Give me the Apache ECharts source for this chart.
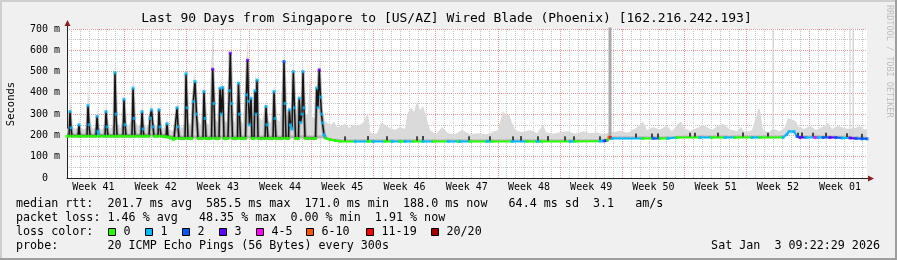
<!DOCTYPE html>
<html><head><meta charset="utf-8">
<script src="https://cdn.jsdelivr.net/npm/echarts@6.0.0/dist/echarts.min.js"></script>
<style>html,body{margin:0;padding:0;background:#f0f0f0}#c{width:897px;height:260px}</style>
</head><body><div id="c"></div>
<script>
// ---------- text ----------
const titleText = 'Last 90 Days from Singapore to [US/AZ] Wired Blade (Phoenix) [162.216.242.193]';
const statsRtt = 'median rtt:  201.7 ms avg  585.5 ms max  171.0 ms min  188.0 ms now   64.4 ms sd  3.1   am/s';
const statsLoss = 'packet loss: 1.46 % avg   48.35 % max  0.00 % min  1.91 % now';
const lossTitle = 'loss color:';
const probeText = 'probe:       20 ICMP Echo Pings (56 Bytes) every 300s';
const stampText = 'Sat Jan  3 09:22:29 2026';
const yName = 'Seconds';
const watermark = 'RRDTOOL / TOBI OETIKER';

// ---------- axes ----------
const weekLabels = ['Week 41','Week 42','Week 43','Week 44','Week 45','Week 46','Week 47','Week 48','Week 49','Week 50','Week 51','Week 52','Week 01'];
const firstWeekBoundary = 6.47;   // day (from left edge) of the first Monday boundary
const spanDays = 90;
const yMaxMs = 700;
const lossNames = ['0','1','2','3','4-5','6-10','11-19','20/20'];
const lossColors = ['#26ff00','#00b8ff','#0059ff','#5e00ff','#ff00ff','#ff5500','#ff0000','#a10000'];

// ---------- median rtt (day, ms, loss class) ----------
const medDay = [
 0,0.23,0.34,0.45,0.56,
 1.24,1.35,1.46,
 2.25,2.36,2.48,2.59,
 3.26,3.38,3.49,3.6,
 4.28,4.39,4.5,4.61,
 5.29,5.4,5.51,5.63,
 6.3,6.41,6.53,6.64,
 7.31,7.43,7.54,7.65,
 8.33,8.44,8.55,8.66,
 9.23,9.34,9.51,9.68,9.79,
 10.24,10.35,10.46,10.58,
 11.14,11.25,11.36,
 11.81,11.93,12.04,
 12.26,12.38,12.49,12.6,
 13.28,13.39,13.5,13.61,
 14.06,14.21,14.4,14.57,14.74,
 15.3,15.41,15.53,15.64,
 16.26,16.39,16.54,16.65,
 17.1,17.21,17.36,17.52,17.66,
 18.11,18.26,18.37,18.51,18.62,
 19.18,19.29,19.41,19.52,
 20.08,20.19,20.31,20.42,20.53,20.7,20.81,
 21.04,21.15,21.26,21.38,21.49,
 22.28,22.39,22.5,22.61,
 23.18,23.29,23.4,23.51,
 24.3,24.41,24.53,24.64,
 24.92,25.01,25.14,25.31,25.46,25.59,25.71,
 26.04,26.13,26.27,26.44,26.55,26.66,26.78,
 27.96,28.09,28.24,28.38,28.52,28.63,28.74,28.91,29.14,
 29.59,30.15,30.71,
 32.4,33.86,34.43,35.78,36.56,37.46,38.03,38.93,40.05,41.18,42.86,43.99,44.21,45.34,47.25,47.81,50.06,51.75,52.88,53.33,56.59,57.15,
 59.96,60.41,60.64,60.81,60.98,61.14,61.31,
 64.8,65.93,66.71,67.61,
 68.63,71.21,72.56,74.03,75.15,77.06,77.96,80.55,
 81.0,81.23,81.79,82.13,82.46,83.14,84.15,84.49,85.05,85.84,86.51,87.19,88.09,88.76,89.44,90
];
const medMs = [
 196,196,312,236,196,
 196,250,196,
 196,340,250,196,
 196,290,220,196,
 196,312,240,196,
 196,495,300,196,
 196,370,250,196,
 196,422,280,196,
 196,312,230,196,
 196,281,320,240,196,
 196,320,240,196,
 194,255,192,
 188,180,186,
 186,330,240,186,
 186,490,330,186,
 186,359,453,300,186,
 186,406,280,186,
 186,511,350,186,
 186,422,300,425,186,
 186,410,586,350,186,
 186,445,300,186,
 186,390,553,360,250,375,186,
 186,410,300,460,186,
 186,336,250,186,
 186,406,280,186,
 186,547,350,186,
 186,320,250,230,500,330,186,
 186,375,260,300,500,330,186,
 186,423,330,508,380,300,259,205,186,
 180,176,172,
 172,172,172,172,172,172,172,172,172,172,172,172,172,172,172,172,172,172,172,172,172,172,
 173,174,176,178,192,190,186,
 186,186,186,186,
 190,190,190,190,190,190,190,190,
 205,218,218,195,190,190,190,190,190,190,190,188,188,186,184,184
];
const medLoss = [
 0,0,1,1,0,
 0,1,0,
 0,1,1,0,
 0,1,1,0,
 0,1,1,0,
 0,1,1,0,
 0,1,1,0,
 0,1,1,0,
 0,1,1,0,
 0,1,1,1,0,
 0,1,1,0,
 0,1,0,
 0,0,0,
 0,1,1,0,
 0,1,1,0,
 0,1,1,1,0,
 0,1,1,0,
 0,3,1,0,
 0,1,1,1,0,
 0,1,3,1,0,
 0,1,1,0,
 0,1,3,1,1,1,0,
 0,1,1,1,0,
 0,1,1,0,
 0,1,1,0,
 0,2,1,0,
 0,1,1,1,1,1,0,
 0,1,1,1,1,1,0,
 0,1,1,3,1,1,1,1,0,
 0,0,0,
 1,0,1,0,1,0,1,0,1,0,1,0,1,0,1,0,1,0,1,0,1,0,
 1,2,3,0,5,6,1,
 0,2,0,1,
 0,1,0,1,0,1,0,1,
 1,1,1,2,3,1,4,1,2,3,2,1,3,2,2,2
];
const spikyUntilDay = 29.2;

// ---------- smoke (day, lowest ping, dense-core top, highest ping) ----------
const smokeDay = [
 0,0.23,0.34,0.56,0.9,1.24,1.35,1.46,1.91,2.25,
 2.36,2.59,2.93,3.26,3.38,3.6,3.94,4.28,4.39,4.61,
 4.95,5.29,5.4,5.63,5.96,6.3,6.41,6.64,6.98,7.31,
 7.43,7.65,7.99,8.33,8.44,8.66,9.0,9.23,9.39,9.68,
 10.01,10.24,10.35,10.58,
 10.91,11.25,11.48,11.81,12.04,
 12.26,12.38,12.6,12.94,13.28,13.39,13.61,13.95,14.29,14.74,
 15.08,15.41,15.64,15.98,16.39,16.65,16.99,17.33,17.66,18.0,
 18.37,18.62,18.9,19.29,19.52,19.8,20.31,20.59,20.7,20.93,
 21.26,21.49,21.94,22.39,22.61,22.95,23.29,23.51,23.96,24.41,
 24.64,24.98,25.2,25.46,25.71,26.1,26.33,26.55,26.78,27.11,
 27.34,27.56,27.9,28.09,28.38,28.63,28.8,
 29.03,29.36,29.7,30.04,30.38,
 30.71,31.28,31.73,32.18,32.74,33.3,33.86,34.09,34.43,34.88,
 35.33,35.78,36.34,36.9,37.46,38.03,38.25,38.7,39.04,39.38,
 39.71,40.05,40.39,40.84,41.51,42.19,42.86,43.65,44.44,45.34,
 46.24,47.14,47.81,48.49,48.83,49.05,49.39,49.73,50.06,50.4,
 51.19,52.09,52.88,53.55,53.89,54.68,55.46,56.25,57.15,58.05,
 58.84,59.63,60.3,
 60.75,60.98,
 61.43,62.21,63.11,64.01,64.46,64.8,65.25,65.93,66.71,67.5,68.06,
 68.74,69.08,69.41,
 70.09,70.88,71.55,72.0,72.56,73.24,73.8,74.59,75.38,75.83,
 76.28,77.06,77.63,77.74,77.96,78.3,78.86,79.54,80.21,
 80.78,81.11,81.56,82.01,
 82.35,82.91,83.59,84.26,84.94,85.61,86.06,
 86.74,87.41,87.98,88.65,89.21,89.66,90
];
const smokeLo = [
 196,196,196,196,196,196,196,196,196,196,
 196,196,196,196,196,196,196,196,196,196,
 196,196,196,196,196,196,196,196,196,196,
 196,196,196,196,196,196,196,196,196,196,
 196,196,196,196,
 194,192,190,186,184,
 186,186,186,186,186,186,186,186,186,186,
 186,186,186,186,186,186,186,186,186,186,
 186,186,186,186,186,186,186,186,186,186,
 186,186,186,186,186,186,186,186,186,186,
 186,186,186,186,186,186,186,186,186,186,
 186,186,186,186,186,186,186,
 184,180,178,176,175,
 172,172,172,172,172,172,172,172,172,172,
 172,172,172,172,172,172,172,172,172,172,
 172,172,172,172,172,172,172,172,172,172,
 172,172,172,172,172,172,172,172,172,172,
 172,172,172,172,172,172,172,172,172,172,
 172,172,172,
 174,176,
 186,186,186,186,186,186,186,186,186,186,186,
 188,188,188,
 190,190,190,190,190,190,190,190,190,190,
 190,190,190,190,190,190,190,190,190,
 195,212,215,200,
 190,190,190,190,190,190,190,
 188,188,188,186,186,186,184
];
const smokeMid = [
 210,210,210,210,210,210,210,210,210,210,
 210,210,210,210,210,210,210,210,210,210,
 210,210,210,210,210,210,210,210,210,210,
 210,210,210,210,210,210,210,210,210,210,
 210,210,210,210,
 208,206,204,200,198,
 200,200,200,200,200,200,200,200,200,200,
 200,200,200,200,200,200,200,200,200,200,
 200,200,200,200,200,200,200,200,200,200,
 200,200,200,200,200,200,200,200,200,200,
 200,200,200,200,200,200,200,200,200,200,
 200,200,200,200,200,200,200,
 196,192,188,186,185,
 182,182,182,182,182,182,182,182,182,182,
 182,182,182,182,182,182,182,182,182,182,
 182,182,182,182,182,182,182,182,182,182,
 182,182,182,182,182,182,182,182,182,182,
 182,182,182,182,182,182,182,182,182,182,
 182,182,182,
 184,186,
 196,196,196,196,196,196,196,196,196,196,196,
 198,198,198,
 200,200,200,200,200,200,200,200,200,200,
 200,200,200,200,200,200,200,200,200,
 205,222,225,210,
 200,200,200,200,200,200,200,
 198,198,198,196,196,196,194
];
const smokeHi = [
 230,240,410,240,232,235,290,240,228,240,
 445,250,230,240,330,235,228,245,360,240,
 232,250,550,260,235,250,400,245,250,270,
 515,270,245,250,345,245,240,255,350,260,
 240,250,345,240,
 235,280,230,222,225,
 240,380,245,235,255,530,260,250,505,270,
 250,450,260,250,687,280,260,480,270,260,
 618,280,260,470,270,255,652,300,400,280,
 500,290,270,360,270,260,440,280,265,600,
 290,340,300,530,290,400,300,540,300,300,
 510,290,280,450,540,330,312,
 270,255,250,265,240,
 242,255,235,250,245,260,306,220,205,210,
 259,250,235,225,240,230,300,330,310,359,
 320,340,290,225,205,240,210,205,225,205,
 210,205,215,225,280,317,290,300,260,225,
 215,225,210,250,215,208,215,220,208,220,
 210,215,205,
 210,215,
 215,222,212,235,250,265,225,240,228,245,220,
 255,265,235,
 222,235,250,240,225,245,255,228,220,240,
 215,225,300,328,320,225,215,230,220,
 240,282,275,265,
 240,230,245,225,240,258,230,
 245,235,230,235,245,228,230
];
// single samples whose highest ping went off the top of the scale
const tallDay = [61.09, 79.43, 88.09, 88.43];
const tallLo = [178, 190, 188, 188];
const tallHi = [800, 800, 800, 800];
// short dense-smoke marks along the flat period
const blipDay = [31.28,33.86,36.0,39.38,40.05,45.23,47.59,50.18,51.08,52.99,54.11,56.03,57.04,59.96,64.01,65.81,66.49,70.09,70.65,73.24,76.05,78.86,82.24,82.69,83.93,85.39,87.75,89.44];
const blipMs = [184,185,184,184,186,184,184,184,185,184,185,184,184,184,197,197,197,201,201,201,202,201,201,202,201,201,199,196];

// ---------- checks ----------
if (medDay.length !== medMs.length || medDay.length !== medLoss.length) throw new Error('median arrays: ' + medDay.length + ' ' + medMs.length + ' ' + medLoss.length);
if ([smokeLo, smokeMid, smokeHi].some(a => a.length !== smokeDay.length)) throw new Error('smoke arrays: ' + smokeDay.length + ' ' + smokeLo.length + ' ' + smokeMid.length + ' ' + smokeHi.length);

// ---------- derived ----------
const weekLines = [];
for (let d = firstWeekBoundary; d < spanDays; d += 7) weekLines.push(+d.toFixed(4));
const weekCenters = weekLabels.map((_, i) => +(firstWeekBoundary - 3.5 + 7 * i).toFixed(4));
const dayLines = [];
for (let k = -6; firstWeekBoundary + k < spanDays; k++) {
  const d = firstWeekBoundary + k;
  if (d > 0 && ((k % 7) + 7) % 7 !== 0) dayLines.push(+d.toFixed(4));
}

const mono = "'DejaVu Sans Mono', monospace";
const darkPath = medDay.map((d, i) => [d, medMs[i]]).filter(p => p[0] <= spikyUntilDay);
const tallThick = [[tallDay[0], tallLo[0]], [tallDay[0], tallHi[0]]];
const tallThin = [];
for (let i = 1; i < tallDay.length; i++) { tallThin.push([tallDay[i], tallLo[i]], [tallDay[i], tallHi[i]], [tallDay[i], null]); }

// smoke band between two ping levels, drawn as one polygon through the axis scales
function bandSeries(lo, hi, color, z) {
  return {
    type: 'custom', coordinateSystem: 'cartesian2d', data: [[0, 0]], silent: true, z,
    renderItem(params, api) {
      const top = smokeDay.map((d, i) => api.coord([d, hi[i]]));
      const bot = smokeDay.map((d, i) => api.coord([d, lo[i]])).reverse();
      return { type: 'polygon', shape: { points: top.concat(bot) }, style: { fill: color } };
    }
  };
}

const segSeries = lossColors.map((color, cat) => {
  const data = [];
  for (let i = 0; i < medDay.length - 1; i++) {
    if (medLoss[i] === cat && Math.abs(medMs[i + 1] - medMs[i]) <= 25) {
      const last = data[data.length - 1];
      if (!last || last[0] !== medDay[i] || last[1] === null) {
        if (data.length) data.push([medDay[i], null]);
        data.push([medDay[i], medMs[i]]);
      }
      data.push([medDay[i + 1], medMs[i + 1]]);
    }
  }
  return { type: 'line', data, symbol: 'none', connectNulls: false, lineStyle: { color, width: 2 }, z: 6, silent: true };
});

const graphic = [];
// frame
graphic.push({ type: 'rect', shape: { x: 0, y: 0, width: 897, height: 2 }, style: { fill: '#cfcfcf' }, z: 100 });
graphic.push({ type: 'rect', shape: { x: 0, y: 0, width: 2, height: 260 }, style: { fill: '#cfcfcf' }, z: 100 });
graphic.push({ type: 'rect', shape: { x: 0, y: 258, width: 897, height: 2 }, style: { fill: '#9e9e9e' }, z: 100 });
graphic.push({ type: 'rect', shape: { x: 895, y: 0, width: 2, height: 260 }, style: { fill: '#9e9e9e' }, z: 100 });
// title & texts
graphic.push({ type: 'text', x: 446.5, y: 19, style: { text: titleText, font: '13px ' + mono, fill: '#000', align: 'center', verticalAlign: 'middle' } });
graphic.push({ type: 'text', x: 11, y: 104, rotation: Math.PI / 2, style: { text: yName, font: '10.5px ' + mono, fill: '#000', align: 'center', verticalAlign: 'middle' } });
graphic.push({ type: 'text', x: 889, y: 5, rotation: -Math.PI / 2, style: { text: watermark, font: '8.5px ' + mono, fill: '#bdbdbd', align: 'left', verticalAlign: 'middle' } });
const legFont = '11.7px ' + mono;
graphic.push({ type: 'text', x: 16, y: 204, style: { text: statsRtt, font: legFont, fill: '#000', align: 'left', verticalAlign: 'middle' } });
graphic.push({ type: 'text', x: 16, y: 218, style: { text: statsLoss, font: legFont, fill: '#000', align: 'left', verticalAlign: 'middle' } });
graphic.push({ type: 'text', x: 16, y: 232, style: { text: lossTitle, font: legFont, fill: '#000', align: 'left', verticalAlign: 'middle' } });
graphic.push({ type: 'text', x: 16, y: 246, style: { text: probeText, font: legFont, fill: '#000', align: 'left', verticalAlign: 'middle' } });
graphic.push({ type: 'text', x: 880, y: 246, style: { text: stampText, font: legFont, fill: '#000', align: 'right', verticalAlign: 'middle' } });
const boxX = [108.5, 145.5, 182.5, 219.5, 256.5, 306.5, 366.5, 431.5];
lossNames.forEach((name, i) => {
  graphic.push({ type: 'rect', shape: { x: boxX[i], y: 228.5, width: 7, height: 7 }, style: { fill: lossColors[i], stroke: '#000', lineWidth: 1 } });
  graphic.push({ type: 'text', x: boxX[i] + 15, y: 232, style: { text: name, font: legFont, fill: '#000', align: 'left', verticalAlign: 'middle' } });
});
// axis arrows
graphic.push({ type: 'line', shape: { x1: 67.5, y1: 29, x2: 67.5, y2: 23 }, style: { stroke: '#222', lineWidth: 1 } });
graphic.push({ type: 'polygon', shape: { points: [[67.5, 20], [64.5, 26], [70.5, 26]] }, style: { fill: '#8b2020' } });
graphic.push({ type: 'line', shape: { x1: 867, y1: 178.5, x2: 870, y2: 178.5 }, style: { stroke: '#222', lineWidth: 1 } });
graphic.push({ type: 'polygon', shape: { points: [[874, 178.5], [868, 175.5], [868, 181.5]] }, style: { fill: '#8b2020' } });

const chart = echarts.init(document.getElementById('c'), null, { renderer: 'canvas', width: 897, height: 260 });
chart.setOption({
  animation: false,
  backgroundColor: '#f0f0f0',
  grid: { left: 67, top: 29, width: 800, height: 149, show: true, backgroundColor: '#ffffff', borderWidth: 0 },
  xAxis: [{
    type: 'value', min: 0, max: spanDays,
    axisLine: { show: true, lineStyle: { color: '#222', width: 1 } },
    axisTick: { show: false, customValues: weekLines },
    axisLabel: { customValues: weekCenters, formatter: v => weekLabels[Math.round((v - weekCenters[0]) / 7)] || '', fontFamily: mono, fontSize: 10, color: '#000', margin: 4 },
    splitLine: { show: true, lineStyle: { color: '#eb9a9a', type: [1, 1], width: 1 } }
  }, {
    type: 'value', min: 0, max: spanDays, position: 'top',
    axisLine: { show: false }, axisLabel: { show: false },
    axisTick: { show: false, customValues: dayLines },
    splitLine: { show: true, lineStyle: { color: '#c4c4c4', type: [1, 1], width: 1 } }
  }],
  yAxis: {
    type: 'value', min: 0, max: yMaxMs, interval: 100,
    axisLine: { show: true, lineStyle: { color: '#222', width: 1 } },
    axisTick: { show: false },
    axisLabel: { formatter: v => v === 0 ? '0  ' : v + ' m', fontFamily: mono, fontSize: 10, color: '#000', margin: 7 },
    splitLine: { show: true, lineStyle: { color: '#eb9a9a', type: [1, 1], width: 1 } },
    minorTick: { show: false, splitNumber: 2 },
    minorSplitLine: { show: true, lineStyle: { color: '#c4c4c4', type: [1, 1], width: 1 } }
  },
  graphic,
  series: [
    bandSeries(smokeMid, smokeHi, '#dadada', 2),
    bandSeries(smokeLo, smokeMid, '#b4b4b4', 2),
    { type: 'line', data: tallThick, symbol: 'none', lineStyle: { color: '#a9a9a9', width: 3 }, silent: true, z: 3 },
    { type: 'line', data: tallThin, symbol: 'none', connectNulls: false, lineStyle: { color: '#cdcdcd', width: 1 }, silent: true, z: 3 },
    { type: 'line', data: darkPath, symbol: 'none', lineStyle: { color: 'rgba(70,70,70,0.35)', width: 3.5 }, silent: true, z: 4 },
    { type: 'line', data: darkPath, symbol: 'none', lineStyle: { color: '#141414', width: 1.5 }, silent: true, z: 5 },
    { type: 'scatter', data: blipDay.map((d, i) => [d, blipMs[i]]), symbol: 'rect', symbolSize: [2, 5], itemStyle: { color: '#202020' }, silent: true, z: 5 },
    ...segSeries,
    { type: 'scatter', data: medDay.map((d, i) => [d, medMs[i], medLoss[i]]), symbol: 'rect', symbolSize: 3,
      itemStyle: { color: p => lossColors[p.data[2]] }, silent: true, z: 7 }
  ]
});
</script>
</body></html>
